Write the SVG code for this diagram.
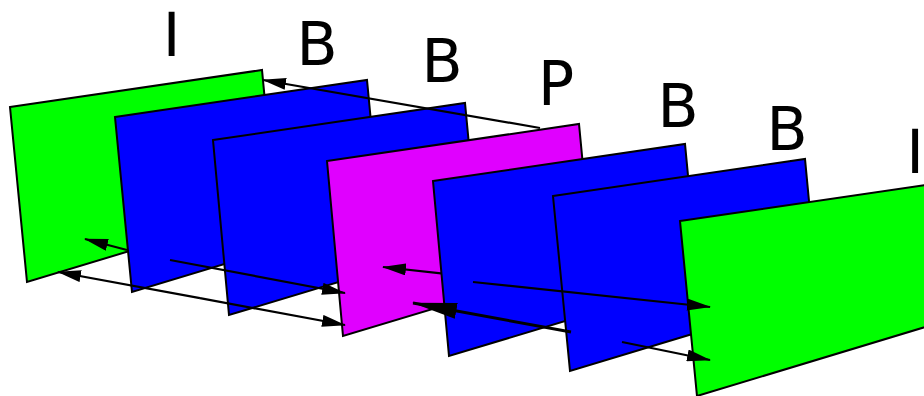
<svg xmlns="http://www.w3.org/2000/svg" width="924" height="396" viewBox="0 0 924 396">
<style>
.frame{stroke:#000;stroke-width:2;stroke-linejoin:miter}
.i{fill:#00ff00}
.b{fill:#0000ff}
.p{fill:#e000ff}
.lbl{font-family:"DejaVu Sans","Liberation Sans",sans-serif;font-size:60px;fill:#000;text-anchor:middle}
.c{stroke:#000;stroke-width:2.2;fill:none}
.cb{stroke:#000;stroke-width:3;fill:none}
</style>
<defs>
<marker id="ah" markerUnits="userSpaceOnUse" viewBox="0 0 24 12" refX="23" refY="6" markerWidth="24" markerHeight="12" orient="auto">
<path d="M0,0 L24,6 L0,12 z" fill="#000"/>
</marker>
<marker id="ahBig" markerUnits="userSpaceOnUse" viewBox="0 0 45 16" refX="44" refY="8" markerWidth="45" markerHeight="16" orient="auto">
<path d="M0,0 L45,8 L0,16 z" fill="#000"/>
</marker>
</defs>
<g id="frame1">
<polygon class="frame i" points="10,107 262,70 275,207 27,282"/>
<text class="lbl" x="171.5" y="56">I</text>
</g>
<g id="frame2">
<polygon class="frame b" points="115,117 367,80 380,217 132,292"/>
<text class="lbl" x="317" y="65">B</text>
</g>
<g id="frame3">
<polygon class="frame b" points="213,140 465,103 478,240 229,315"/>
<text class="lbl" x="442" y="82">B</text>
</g>
<g id="frame4">
<polygon class="frame p" points="327,161 579,124 592,261 343,336"/>
<text class="lbl" x="556" y="105">P</text>
</g>
<g id="frame5">
<polygon class="frame b" points="433,181 685,144 698,281 449,356"/>
<text class="lbl" x="678" y="127">B</text>
</g>
<g id="frame6">
<polygon class="frame b" points="553,196 805,159 818,296 570,371"/>
<text class="lbl" x="787" y="150">B</text>
</g>
<g id="frame7">
<polygon class="frame i" points="680,221 932,184 945,321 697,396"/>
<text class="lbl" x="915" y="173">I</text>
</g>
<g id="connectors">
<line class="c" x1="540" y1="128" x2="263" y2="80" marker-end="url(#ah)"/>
<line class="c" x1="127" y1="250" x2="85" y2="239" marker-end="url(#ah)"/>
<line class="c" x1="170" y1="260" x2="345" y2="293" marker-end="url(#ah)"/>
<line class="c" x1="200" y1="298.2" x2="58" y2="272" marker-end="url(#ah)"/>
<line class="c" x1="200" y1="298.2" x2="345" y2="325" marker-end="url(#ah)"/>
<line class="c" x1="441" y1="273.3" x2="383" y2="267" marker-end="url(#ah)"/>
<line class="cb" x1="571" y1="332" x2="413" y2="303" marker-end="url(#ahBig)"/>
<line class="c" x1="473" y1="282" x2="710" y2="307" marker-end="url(#ah)"/>
<line class="c" x1="622" y1="342" x2="710" y2="360" marker-end="url(#ah)"/>
</g>
</svg>
